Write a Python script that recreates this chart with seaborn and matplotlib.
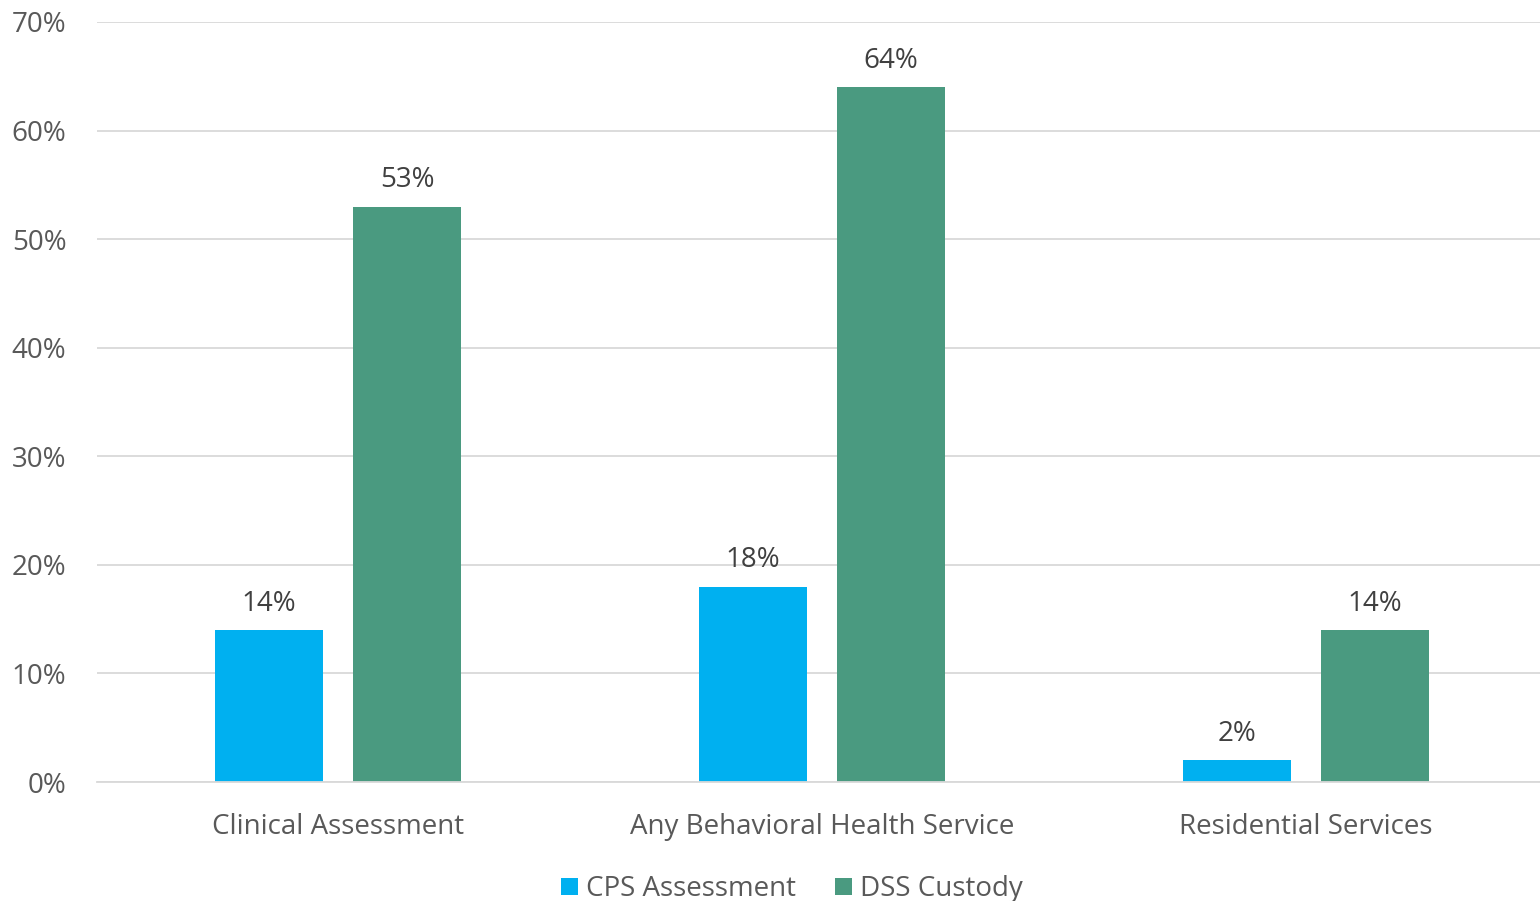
import matplotlib
matplotlib.use("Agg")
import matplotlib.pyplot as plt
import seaborn as sns
import pandas as pd
from matplotlib.ticker import PercentFormatter

categories = ["Clinical Assessment", "Any Behavioral Health Service", "Residential Services"]
series_names = ["CPS Assessment", "DSS Custody"]
cps_values = [14, 18, 2]
dss_values = [53, 64, 14]
y_ticks = [0, 10, 20, 30, 40, 50, 60, 70]

df = pd.DataFrame({
    "category": categories * 2,
    "group": [series_names[0]] * 3 + [series_names[1]] * 3,
    "value": cps_values + dss_values,
})

sns.set_theme(style="white")
plt.rcParams["font.family"] = ["Open Sans", "DejaVu Sans"]

fig = plt.figure(figsize=(15.4, 9.01), dpi=100)
ax = fig.add_axes([0.063, 0.132, 0.937, 0.8436])

palette = {"CPS Assessment": "#00B0F0", "DSS Custody": "#4A9A80"}
sns.barplot(data=df, x="category", y="value", hue="group", order=categories,
            hue_order=series_names, palette=palette, width=0.5704, gap=0.218,
            saturation=1, linewidth=0, ax=ax, legend=True)

for container in ax.containers:
    ax.bar_label(container, labels=[f"{v:.0f}%" for v in container.datavalues],
                 padding=9, fontsize=20, color="#404040")

ax.set_xlim(-0.498, 2.483)
ax.set_ylim(0, 70)
ax.set_yticks(y_ticks)
ax.yaxis.set_major_formatter(PercentFormatter(decimals=0))
ax.grid(axis="y", color="#D9D9D9", linewidth=1.3)
ax.set_axisbelow(True)
for s in ["top", "right", "left"]:
    ax.spines[s].set_visible(False)
ax.spines["bottom"].set_color("#D9D9D9")
ax.spines["bottom"].set_linewidth(1.3)
ax.set_xlabel("")
ax.set_ylabel("")
ax.tick_params(axis="both", length=0, labelsize=20, labelcolor="#595959")
ax.tick_params(axis="x", pad=22)
ax.tick_params(axis="y", pad=22)

leg = ax.legend(loc="center", bbox_to_anchor=(0.4816, -0.141), ncol=2, frameon=False,
                fontsize=20, handlelength=0.6, handleheight=0.6, handletextpad=0.3,
                columnspacing=1.4, borderpad=0)
for t in leg.get_texts():
    t.set_color("#595959")

fig.savefig("out.png", dpi=100, facecolor="white")
